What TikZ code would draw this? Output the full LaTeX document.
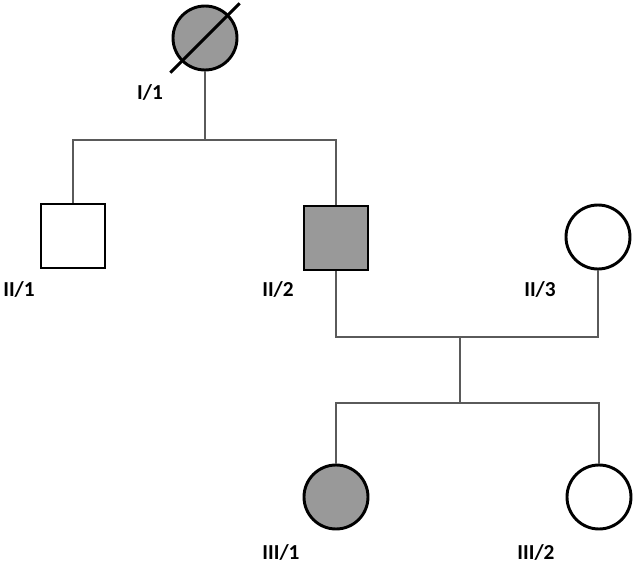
\documentclass[tikz,border=0pt]{standalone}
\usepackage{fontspec}
\setmainfont{Carlito}
\definecolor{affected}{RGB}{153,153,153}
\definecolor{linegray}{RGB}{90,90,90}

\begin{document}
\begin{tikzpicture}[x = 0.75pt, y = -0.75pt]
\tikzstyle{female}=[shape = circle, minimum size = 64*0.75pt,
                    inner sep = 0pt, line width = 2.2pt, draw, fill = white]
\tikzstyle{male}=[shape = rectangle, minimum size = 64*0.75pt,
                  inner sep = 0pt, line width = 2.2pt, draw, fill = white]
\tikzstyle{ill}=[fill = affected]
\tikzstyle{tag}=[font = \bfseries\fontsize{16}{18}\selectfont, inner sep = 0pt]
\tikzstyle{link}=[draw = linegray, line width = 0.9pt]

\useasboundingbox (0,0) rectangle (640,564);

% generation I
\node[female, ill] (i1) at (205,38) {};
\draw[line width = 2.2pt] ([shift = {(-11,11)}]i1.south west) -- ([shift = {(11,-11)}]i1.north east);
\node[tag] (l-i1) at (150,92) {I/1};

% generation II
\node[male] (ii1) at (73,236) {};
\node[male, ill] (ii2) at (336,238) {};
\node[female] (ii3) at (598,237) {};
\node[tag] (l-ii1) at (19,289) {II/1};
\node[tag] (l-ii2) at (278,289) {II/2};
\node[tag] (l-ii3) at (540,289) {II/3};

% generation III
\node[female, ill] (iii1) at (336,497) {};
\node[female] (iii2) at (599,497) {};
\node[tag] (l-iii1) at (281,552) {III/1};
\node[tag] (l-iii2) at (536,552) {III/2};

% lines of descent
\coordinate (s1) at (205,140);
\coordinate (m) at (460,337);
\coordinate (s2) at (460,403);
\draw[link] (i1) -- (s1);
\draw[link] (ii1.north) |- (s1) -| (ii2.north);
\draw[link] (ii2.south) |- (m) -| (ii3.south);
\draw[link] (m) -- (s2);
\draw[link] (iii1.north) |- (s2) -| (iii2.north);
\end{tikzpicture}
\end{document}
